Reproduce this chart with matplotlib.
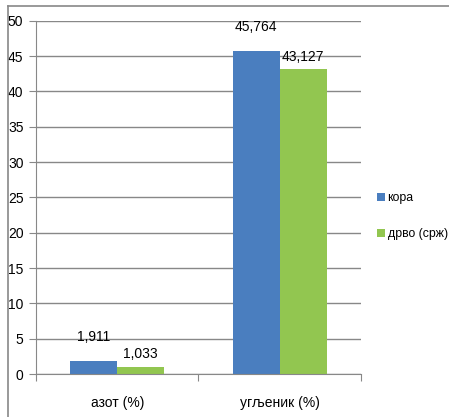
import matplotlib.pyplot as plt
from matplotlib.lines import Line2D
import numpy as np

categories = ['азот (%)', 'угљеник (%)']
series = ['кора', 'дрво (срж)']
kora = [1.911, 45.764]
drvo = [1.033, 43.127]
labels_kora = ['1,911', '45,764']
labels_drvo = ['1,033', '43,127']

plt.rcParams['font.family'] = ['Liberation Sans', 'DejaVu Sans']
plt.rcParams['font.size'] = 10

fig = plt.figure(figsize=(4.49, 4.17), dpi=100)
ax = fig.add_axes([0.080, 0.103, 0.724, 0.847])

x = np.arange(len(categories))
w = 0.29
blue = '#4A7EBF'
green = '#92C650'
b1 = ax.bar(x - w / 2, kora, w, color=blue, label=series[0])
b2 = ax.bar(x + w / 2, drvo, w, color=green, label=series[1])

ax.bar_label(b1, labels=labels_kora, padding=12)
ax.bar_label(b2, labels=labels_drvo, padding=4)

ax.set_xlim(-0.5, 1.5)
ax.set_ylim(0, 50)
ax.set_yticks(range(0, 51, 5))
ax.set_xticks([-0.5, 0.5, 1.5], minor=False)
ax.set_xticklabels([])
ax.set_xticks(x, minor=True)
ax.set_xticklabels(categories, minor=True)
ax.tick_params(axis='x', which='major', length=5, color='#888888')
ax.tick_params(axis='x', which='minor', length=0, pad=16)
ax.tick_params(axis='y', length=5, color='#888888', pad=4)

ax.grid(axis='y', color='#888888', linewidth=1)
ax.set_axisbelow(True)
for s in ['top', 'right']:
    ax.spines[s].set_visible(False)
ax.spines['left'].set_color('#888888')
ax.spines['bottom'].set_color('#888888')

ax.legend(loc='center left', bbox_to_anchor=(1.016, 0.447), frameon=False,
          handlelength=0.6, handleheight=0.6, handletextpad=0.25,
          labelspacing=2.0, fontsize=8.8)

# outer chart border
fig.add_artist(Line2D([8 / 449, 8 / 449], [0, 1 - 6 / 417],
                      transform=fig.transFigure, color='#888888', lw=1.2))
fig.add_artist(Line2D([8 / 449, 1], [1 - 6 / 417, 1 - 6 / 417],
                      transform=fig.transFigure, color='#888888', lw=1.2))

fig.savefig('out.png', dpi=100)
